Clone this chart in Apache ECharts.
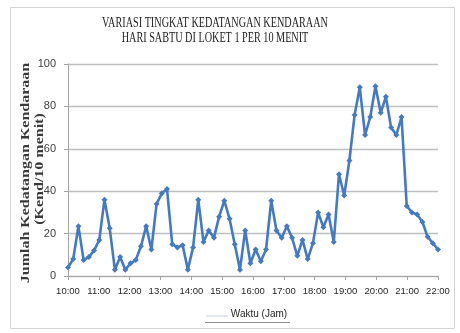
<!DOCTYPE html>
<html>
<head>
<meta charset="utf-8">
<script src="https://cdn.jsdelivr.net/npm/echarts@6/dist/echarts.min.js"></script>
<style>
  html, body { margin: 0; padding: 0; background: #fff; }
  #chart { width: 460px; height: 333px; }
</style>
</head>
<body>
<div id="chart"></div>
<script>
// Vehicle arrivals per 10-minute interval, Saturday, counter 1
const slotLabels = [];
for (let m = 0; m < 72 * 10; m += 10) {
  const h = 10 + Math.floor(m / 60);
  const mm = m % 60;
  slotLabels.push(h + ':' + (mm < 10 ? '0' : '') + mm);
}

const arrivals = [
  4, 8, 23.5, 7.5, 9, 12, 17, 36, 22.5, 3, 9, 3,
  6, 7.5, 14, 23.5, 12.5, 34, 39, 41, 15, 13.5, 14.5, 3,
  13.5, 36, 16, 21.5, 18, 28, 35.5, 27, 15, 3, 21.5, 6,
  12.5, 7, 12.5, 35.5, 21.5, 18, 23.5, 18, 9.5, 17, 8, 15.5,
  30, 23, 29, 16, 48, 38, 54.5, 76, 89, 66.5, 75, 89.5,
  77, 84.5, 70, 66.5, 75, 33, 30, 29, 25.5, 18.5, 15.5, 12.5
];

const hourLabels = [
  '10:00', '11:00', '12:00', '13:00', '14:00', '15:00', '16:00',
  '17:00', '18:00', '19:00', '20:00', '21:00', '22:00'
];

const titleLines = [
  'VARIASI TINGKAT KEDATANGAN KENDARAAN',
  'HARI SABTU DI LOKET 1 PER 10 MENIT'
];
const yNameLines = ['Jumlah Kedatangan Kendaraan', '(Kend/10 menit)'];
const xName = 'Waktu (Jam)';

const chart = echarts.init(document.getElementById('chart'), null, { renderer: 'canvas' });

const labelFont = 'Liberation Sans';
const serif = 'Liberation Serif';

chart.setOption({
  animation: false,
  backgroundColor: '#ffffff',
  grid: { left: 68, right: 22, top: 64, bottom: 57 },
  xAxis: [
    {
      type: 'category',
      data: slotLabels,
      boundaryGap: false,
      show: false
    },
    {
      type: 'category',
      data: hourLabels,
      boundaryGap: false,
      position: 'bottom',
      axisLine: { show: true, lineStyle: { color: '#a6a6a6', width: 1 } },
      axisTick: { show: true, length: 4, lineStyle: { color: '#a6a6a6' } },
      axisLabel: {
        interval: 0,
        margin: 10,
        fontFamily: labelFont,
        fontSize: 9.5,
        color: '#262626'
      },
      splitLine: { show: false }
    }
  ],
  yAxis: {
    type: 'value',
    min: 0,
    max: 100,
    interval: 20,
    axisLine: { show: true, lineStyle: { color: '#a6a6a6', width: 1 } },
    axisTick: { show: true, length: 4, lineStyle: { color: '#a6a6a6' } },
    axisLabel: {
      margin: 12,
      fontFamily: labelFont,
      fontSize: 11,
      color: '#404040'
    },
    splitLine: { show: true, lineStyle: { color: '#bfbfbf', width: 1.3 } }
  },
  series: [
    {
      type: 'line',
      xAxisIndex: 0,
      data: arrivals,
      symbol: 'diamond',
      symbolSize: 6,
      showAllSymbol: true,
      lineStyle: { color: '#4579c0', width: 2.6 },
      itemStyle: { color: '#4579c0' }
    }
  ],
  graphic: [
    {
      type: 'rect',
      shape: { x: 10.5, y: 7.5, width: 444, height: 321 },
      style: { fill: 'none', stroke: '#d4d4d4', lineWidth: 1 },
      silent: true
    },
    {
      type: 'text',
      x: 215, y: 23, scaleX: 0.68,
      style: {
        text: titleLines[0], fontFamily: serif, fontSize: 15,
        fill: '#222222', align: 'center', verticalAlign: 'middle'
      }
    },
    {
      type: 'text',
      x: 215, y: 38, scaleX: 0.68,
      style: {
        text: titleLines[1], fontFamily: serif, fontSize: 15,
        fill: '#222222', align: 'center', verticalAlign: 'middle'
      }
    },
    {
      type: 'text',
      x: 26, y: 173, rotation: Math.PI / 2, scaleY: 0.75,
      style: {
        text: yNameLines[0], fontFamily: serif, fontSize: 16,
        fontWeight: 'bold', fill: '#3a3a3a', align: 'center', verticalAlign: 'middle'
      }
    },
    {
      type: 'text',
      x: 40, y: 169, rotation: Math.PI / 2, scaleY: 0.75,
      style: {
        text: yNameLines[1], fontFamily: serif, fontSize: 16,
        fontWeight: 'bold', fill: '#3a3a3a', align: 'center', verticalAlign: 'middle'
      }
    },
    {
      type: 'line',
      shape: { x1: 206, y1: 316, x2: 228, y2: 316 },
      style: { stroke: '#e3e9f2', lineWidth: 2 }
    },
    {
      type: 'text',
      x: 259, y: 314,
      style: {
        text: xName, fontFamily: labelFont, fontSize: 10,
        fill: '#262626', align: 'center', verticalAlign: 'middle'
      }
    },
    {
      type: 'line',
      shape: { x1: 205, y1: 322.5, x2: 290, y2: 322.5 },
      style: { stroke: '#8c8c8c', lineWidth: 1 }
    }
  ]
});
</script>
</body>
</html>
